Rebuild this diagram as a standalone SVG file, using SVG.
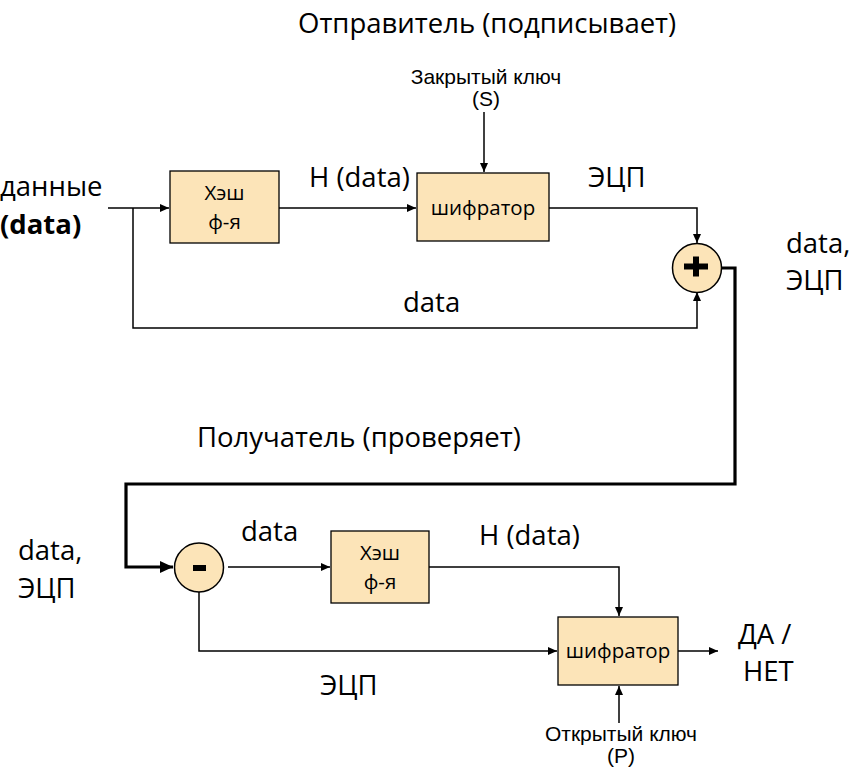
<svg xmlns="http://www.w3.org/2000/svg" width="859" height="773" viewBox="0 0 859 773">
<style>
  .bg{fill:#ffffff}
  .box{fill:#FCE4B8;stroke:#000;stroke-width:1.3}
  .circ{fill:#FCE4B8;stroke:#000;stroke-width:1.5}
  .ln{fill:none;stroke:#000;stroke-width:1.5}
  .thick{fill:none;stroke:#000;stroke-width:3.2}
  .big{font-family:"Open Sans",Lato,sans-serif;font-size:27.5px;fill:#000}
  .mid{font-family:"Open Sans",Lato,sans-serif;font-size:20.5px;fill:#000}
  .sm{font-family:"Liberation Sans",Arial,sans-serif;font-size:21px;fill:#000}
</style>
<defs>
  <marker id="ar" markerUnits="userSpaceOnUse" markerWidth="10" markerHeight="10" refX="9" refY="4" orient="auto">
    <path d="M0,0 L9,4 L0,8 z" fill="#000"/>
  </marker>
  <marker id="arb" markerUnits="userSpaceOnUse" markerWidth="14" markerHeight="14" refX="13" refY="6" orient="auto">
    <path d="M0,0 L13,6 L0,12 z" fill="#000"/>
  </marker>
</defs>
<rect class="bg" x="0" y="0" width="859" height="773"/>

<text class="big" x="298" y="33">Отправитель (подписывает)</text>
<text class="big" x="197" y="447">Получатель (проверяет)</text>

<g id="connectors">
  <path class="ln" d="M108,208 H169" marker-end="url(#ar)"/>
  <path class="ln" d="M133,208 V328 H697 V292" marker-end="url(#ar)"/>
  <path class="ln" d="M279,208 H416" marker-end="url(#ar)"/>
  <path class="ln" d="M484,112 V172" marker-end="url(#ar)"/>
  <path class="ln" d="M549,208 H697 V243" marker-end="url(#ar)"/>
  <path class="thick" d="M721,268 H735 V484 H126 V567 H173" marker-end="url(#arb)"/>
  <path class="ln" d="M228,567 H330" marker-end="url(#ar)"/>
  <path class="ln" d="M199,592 V651 H557" marker-end="url(#ar)"/>
  <path class="ln" d="M429,567 H619 V616" marker-end="url(#ar)"/>
  <path class="ln" d="M678,651 H718" marker-end="url(#ar)"/>
  <path class="ln" d="M619,723 V686" marker-end="url(#ar)"/>
</g>

<g id="input">
  <text class="big" x="0" y="196">данные</text>
  <text class="big" x="0" y="234" font-weight="bold">(data)</text>
</g>

<g id="hash1">
  <rect class="box" x="170" y="171" width="109" height="72"/>
  <text class="mid" x="224.5" y="200" text-anchor="middle">Хэш</text>
  <text class="mid" x="224.5" y="229" text-anchor="middle">ф-я</text>
</g>

<g id="label-h1"><text class="big" x="309" y="187">H (data)</text></g>

<g id="key-s">
  <text class="sm" x="486" y="84" text-anchor="middle">Закрытый ключ</text>
  <text class="sm" x="486" y="106" text-anchor="middle">(S)</text>
</g>

<g id="shifr1">
  <rect class="box" x="417" y="173" width="132" height="68"/>
  <text class="mid" x="483" y="215" text-anchor="middle">шифратор</text>
</g>

<g id="label-ecp1"><text class="big" x="588" y="187">ЭЦП</text></g>
<g id="label-data1"><text class="big" x="403" y="312">data</text></g>

<g id="plus">
  <circle class="circ" cx="697" cy="268" r="24.5"/>
  <rect x="684" y="263.5" width="24" height="6" fill="#000"/>
  <rect x="693" y="256.5" width="6" height="20" fill="#000"/>
</g>

<g id="label-out1">
  <text class="big" x="786" y="253">data,</text>
  <text class="big" x="786" y="290">ЭЦП</text>
</g>

<g id="label-in2">
  <text class="big" x="18" y="560">data,</text>
  <text class="big" x="18" y="598">ЭЦП</text>
</g>

<g id="minus">
  <circle class="circ" cx="199" cy="567.5" r="24.5"/>
  <rect x="193" y="565" width="13" height="6" fill="#000"/>
</g>

<g id="label-data2"><text class="big" x="241" y="541">data</text></g>

<g id="hash2">
  <rect class="box" x="331" y="531" width="98" height="72"/>
  <text class="mid" x="380" y="560" text-anchor="middle">Хэш</text>
  <text class="mid" x="380" y="589" text-anchor="middle">ф-я</text>
</g>

<g id="label-h2"><text class="big" x="479" y="545">H (data)</text></g>

<g id="shifr2">
  <rect class="box" x="558" y="617" width="120" height="68"/>
  <text class="mid" x="618" y="658" text-anchor="middle">шифратор</text>
</g>

<g id="label-ecp2"><text class="big" x="320" y="695">ЭЦП</text></g>

<g id="result">
  <text class="big" x="738" y="644">ДА /</text>
  <text class="big" x="743" y="681">НЕТ</text>
</g>

<g id="key-p">
  <text class="sm" x="621" y="741" text-anchor="middle">Открытый ключ</text>
  <text class="sm" x="621" y="763" text-anchor="middle">(P)</text>
</g>
</svg>
